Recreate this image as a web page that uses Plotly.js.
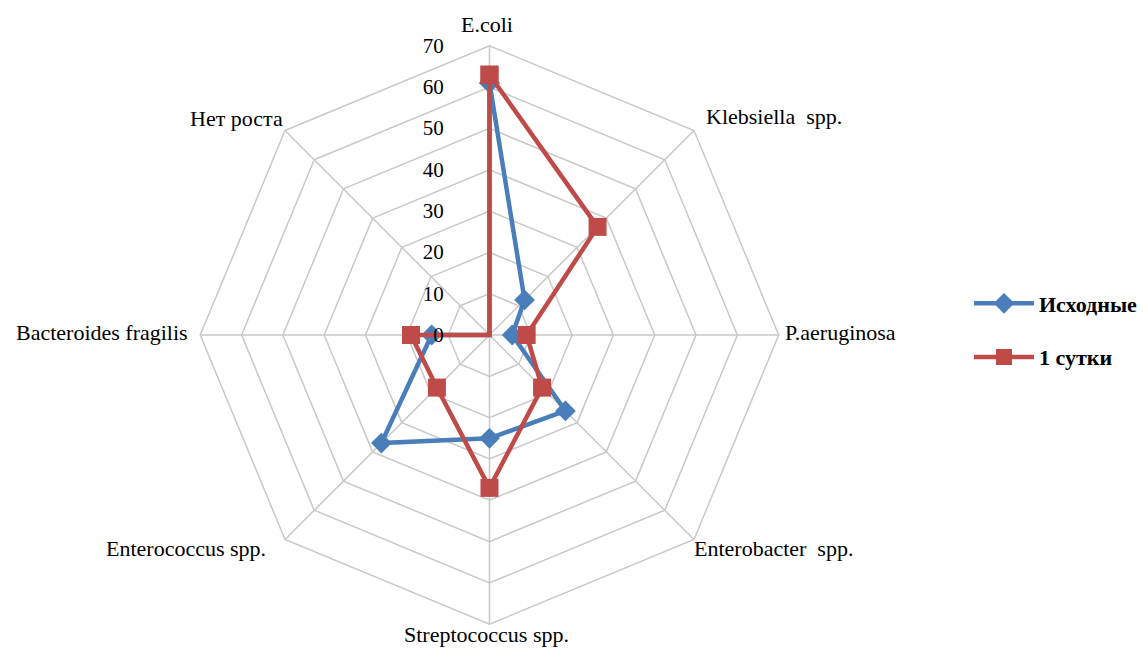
<!DOCTYPE html>
<html>
<head>
<meta charset="utf-8">
<script src="https://cdn.plot.ly/plotly-3.0.1.min.js"></script>
<style>html,body{margin:0;padding:0;background:#fff;}#chart{width:1143px;height:648px;}</style>
</head>
<body>
<div id="chart"></div>
<script>
const categories = ["E.coli", "Klebsiella  spp.", "P.aeruginosa", "Enterobacter  spp.", "Streptococcus spp.", "Enterococcus spp.", "Bacteroides fragilis", "Нет роста"];
const seriesNames = ["Исходные", "1 сутки"];
const initialValues = [61, 12, 5.5, 26, 25, 37, 14, 0];
const day1Values = [63, 37, 9, 18, 37, 18, 19, 0];
const radialTicks = [0, 10, 20, 30, 40, 50, 60, 70];

function closed(arr) { return arr.concat([arr[0]]); }

const W = 1143, H = 648;
const font = "Liberation Serif, Times New Roman, serif";

// category label placement (pixel anchor, alignment)
const labelPlacement = [
  {x: 490, y: 25, xa: "center"},
  {x: 708, y: 116, xa: "left"},
  {x: 788, y: 333, xa: "left"},
  {x: 696, y: 548, xa: "left"},
  {x: 490, y: 634, xa: "center"},
  {x: 270, y: 548, xa: "right"},
  {x: 191, y: 333, xa: "right"},
  {x: 287, y: 118, xa: "right"}
];

const annotations = categories.map((c, i) => ({
  text: c,
  xref: "paper", yref: "paper",
  x: labelPlacement[i].x / W,
  y: 1 - labelPlacement[i].y / H,
  xanchor: labelPlacement[i].xa,
  yanchor: "middle",
  showarrow: false,
  font: {family: font, size: 22, color: "#000"}
}));

const traces = [
  {
    type: "scatterpolar",
    name: seriesNames[0],
    r: closed(initialValues),
    theta: closed(categories),
    mode: "lines+markers",
    line: {color: "#4A7EBB", width: 4.5},
    marker: {symbol: "diamond", size: 16, color: "#4A7EBB"},
    legendgroup: "a",
    cliponaxis: false
  },
  {
    type: "scatterpolar",
    name: seriesNames[1],
    r: closed(day1Values),
    theta: closed(categories),
    mode: "lines+markers",
    line: {color: "#BE4B48", width: 4.5},
    marker: {symbol: "square", size: 18, color: "#BE4B48"},
    legendgroup: "b",
    cliponaxis: false
  }
];

const layout = {
  width: W,
  height: H,
  margin: {l: 0, r: 0, t: 0, b: 0},
  paper_bgcolor: "#fff",
  font: {family: font, size: 22, color: "#000"},
  showlegend: true,
  legend: {
    x: 0.853, y: 0.49, xanchor: "left", yanchor: "middle",
    font: {family: font, size: 22, color: "#000", weight: "bold"},
    itemwidth: 60,
    tracegroupgap: 22,
    bgcolor: "rgba(0,0,0,0)"
  },
  annotations: annotations,
  polar: {
    domain: {x: [201.5/W, 783.5/W], y: [22/H, 604/H]},
    gridshape: "linear",
    bgcolor: "#fff",
    angularaxis: {
      direction: "clockwise",
      rotation: 90,
      showline: true,
      linecolor: "#c8c8c8",
      linewidth: 1.5,
      gridcolor: "#c8c8c8",
      gridwidth: 1.5,
      ticks: "",
      showticklabels: false
    },
    radialaxis: {
      range: [0, 70],
      tickvals: radialTicks,
      ticktext: radialTicks.map(String),
      angle: 90,
      side: "counterclockwise",
      tickangle: 90,
      showline: false,
      ticks: "outside",
      ticklen: 38,
      tickcolor: "rgba(0,0,0,0)",
      gridcolor: "#c8c8c8",
      gridwidth: 1.5,
      tickfont: {family: font, size: 21, color: "#000"}
    }
  }
};

Plotly.newPlot("chart", traces, layout, {displayModeBar: false, staticPlot: true});
</script>
</body>
</html>
